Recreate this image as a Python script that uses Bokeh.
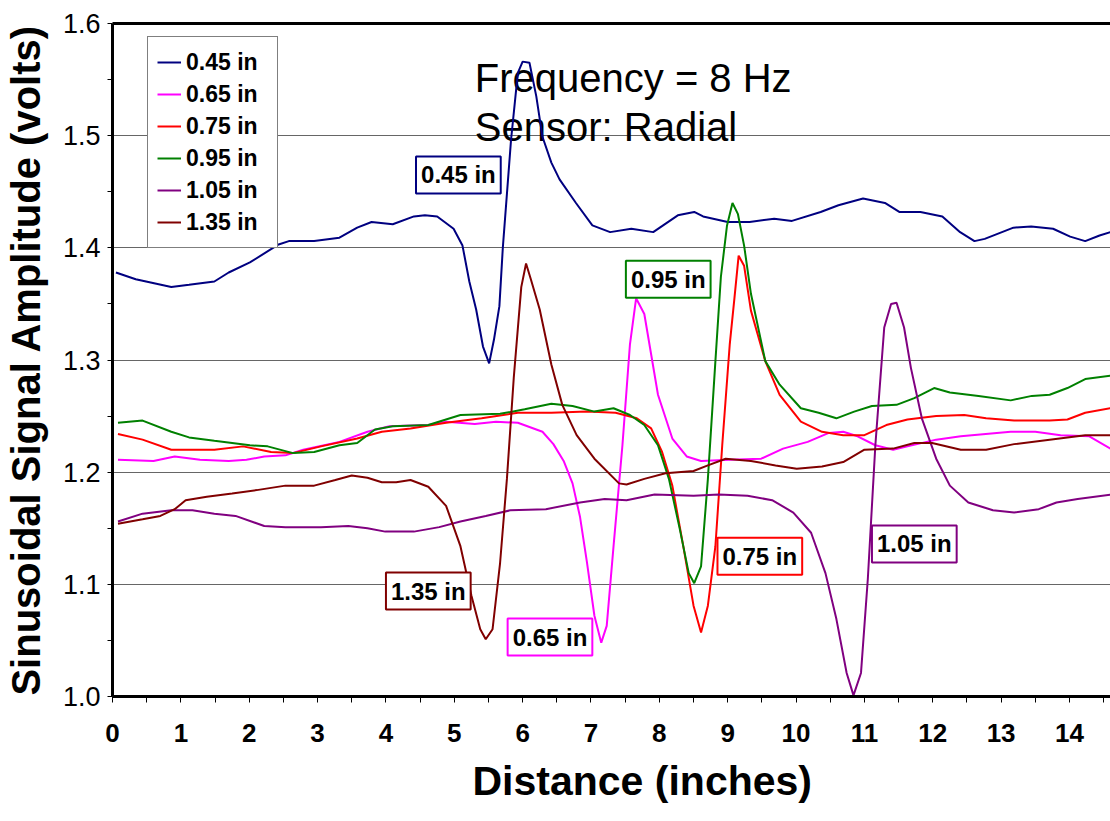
from bokeh.plotting import figure
from bokeh.models import FixedTicker, PrintfTickFormatter, Label, LinearAxis, Range1d, Title
from bokeh.embed import file_html
from bokeh.resources import INLINE

FONT = "Liberation Sans"

# ---------------- data ----------------
series_names = ["0.45 in", "0.65 in", "0.75 in", "0.95 in", "1.05 in", "1.35 in"]
series_colors = ["#000080", "#FF00FF", "#FF0000", "#008000", "#800080", "#800000"]

x_045 = [0.05, 0.34, 0.86, 1.12, 1.49, 1.70, 2.01, 2.43, 2.58, 2.95, 3.32, 3.58, 3.79, 4.10,
         4.41, 4.57, 4.75, 4.99, 5.12, 5.22, 5.32, 5.42, 5.51, 5.58, 5.66, 5.71, 5.83, 5.93,
         6.00, 6.10, 6.20, 6.29, 6.42, 6.54, 6.78, 7.02, 7.28, 7.59, 7.91, 8.27, 8.51, 8.64,
         9.00, 9.32, 9.68, 9.94, 10.36, 10.62, 10.98, 11.30, 11.51, 11.82, 12.14, 12.40,
         12.61, 12.76, 13.18, 13.44, 13.76, 14.01, 14.23, 14.44, 14.60]
y_045 = [1.378, 1.372, 1.365, 1.367, 1.370, 1.378, 1.387, 1.403, 1.406, 1.406, 1.409, 1.418,
         1.423, 1.421, 1.428, 1.429, 1.428, 1.417, 1.402, 1.370, 1.345, 1.312, 1.297, 1.318,
         1.348, 1.400, 1.496, 1.556, 1.566, 1.565, 1.535, 1.499, 1.476, 1.461, 1.440, 1.420,
         1.414, 1.417, 1.414, 1.429, 1.432, 1.428, 1.423, 1.423, 1.426, 1.424, 1.432, 1.438,
         1.444, 1.440, 1.432, 1.432, 1.428, 1.414, 1.406, 1.408, 1.418, 1.419, 1.417, 1.410,
         1.406, 1.411, 1.414]

x_065 = [0.08, 0.60, 0.91, 1.28, 1.70, 1.96, 2.22, 2.53, 2.79, 3.32, 3.73, 4.05, 4.62, 4.88,
         5.30, 5.61, 5.93, 6.29, 6.45, 6.60, 6.73, 6.84, 6.94, 7.05, 7.15, 7.23, 7.33, 7.46,
         7.57, 7.66, 7.78, 7.98, 8.19, 8.40, 8.61, 9.03, 9.49, 9.81, 10.17, 10.48, 10.69,
         10.90, 11.16, 11.42, 11.63, 12.05, 12.41, 13.14, 13.50, 13.87, 14.29, 14.60]
y_065 = [1.211, 1.210, 1.214, 1.211, 1.210, 1.211, 1.214, 1.215, 1.220, 1.227, 1.236, 1.241,
         1.242, 1.245, 1.243, 1.245, 1.244, 1.236, 1.225, 1.210, 1.190, 1.160, 1.120, 1.072,
         1.048, 1.063, 1.134, 1.224, 1.314, 1.355, 1.341, 1.269, 1.230, 1.214, 1.210, 1.211,
         1.212, 1.221, 1.227, 1.235, 1.236, 1.232, 1.224, 1.220, 1.223, 1.229, 1.232, 1.236,
         1.236, 1.233, 1.232, 1.221]

x_075 = [0.08, 0.44, 0.86, 1.49, 1.91, 2.32, 2.64, 3.05, 3.58, 3.94, 4.36, 4.88, 5.40, 5.93,
         6.42, 6.94, 7.36, 7.67, 7.88, 8.04, 8.19, 8.35, 8.50, 8.61, 8.71, 8.82, 8.92, 9.03,
         9.10, 9.16, 9.24, 9.34, 9.55, 9.76, 10.07, 10.38, 10.69, 11.00, 11.32, 11.63, 12.05,
         12.46, 12.78, 13.19, 13.71, 13.97, 14.23, 14.60]
y_075 = [1.234, 1.229, 1.220, 1.220, 1.223, 1.218, 1.217, 1.223, 1.230, 1.236, 1.239, 1.244,
         1.248, 1.253, 1.253, 1.254, 1.253, 1.248, 1.239, 1.218, 1.188, 1.134, 1.081, 1.057,
         1.081, 1.134, 1.224, 1.314, 1.356, 1.393, 1.384, 1.344, 1.299, 1.269, 1.245, 1.236,
         1.233, 1.233, 1.242, 1.247, 1.250, 1.251, 1.248, 1.246, 1.246, 1.247, 1.253, 1.257]

x_095 = [0.08, 0.44, 0.86, 1.12, 1.49, 2.01, 2.27, 2.64, 2.95, 3.32, 3.58, 3.84, 4.10, 4.62,
         5.09, 5.67, 6.03, 6.42, 6.73, 7.05, 7.33, 7.57, 7.78, 7.98, 8.14, 8.30, 8.43, 8.51,
         8.61, 8.71, 8.82, 8.90, 8.99, 9.07, 9.15, 9.24, 9.34, 9.55, 9.76, 10.07, 10.33, 10.59,
         10.85, 11.11, 11.47, 11.73, 12.02, 12.25, 12.67, 13.14, 13.45, 13.71, 13.97, 14.23,
         14.60]
y_095 = [1.244, 1.246, 1.236, 1.231, 1.228, 1.224, 1.223, 1.217, 1.218, 1.224, 1.226, 1.238,
         1.241, 1.242, 1.251, 1.252, 1.256, 1.261, 1.259, 1.254, 1.257, 1.251, 1.242, 1.224,
         1.194, 1.149, 1.110, 1.101, 1.116, 1.194, 1.299, 1.374, 1.420, 1.440, 1.430, 1.402,
         1.359, 1.299, 1.278, 1.257, 1.253, 1.248, 1.254, 1.259, 1.260, 1.266, 1.275, 1.271,
         1.268, 1.264, 1.268, 1.269, 1.275, 1.283, 1.286]

x_105 = [0.08, 0.44, 0.86, 1.17, 1.49, 1.80, 2.22, 2.53, 3.05, 3.45, 3.73, 3.99, 4.41, 4.78,
         5.09, 5.46, 5.82, 6.34, 6.84, 7.20, 7.52, 7.93, 8.50, 8.87, 9.29, 9.65, 9.96, 10.22,
         10.43, 10.59, 10.74, 10.84, 10.95, 11.05, 11.16, 11.29, 11.39, 11.47, 11.58, 11.68,
         11.84, 12.05, 12.25, 12.52, 12.88, 13.19, 13.55, 13.81, 14.12, 14.60]
y_105 = [1.156, 1.163, 1.166, 1.166, 1.163, 1.161, 1.152, 1.151, 1.151, 1.152, 1.150, 1.147,
         1.147, 1.151, 1.156, 1.161, 1.166, 1.167, 1.173, 1.176, 1.175, 1.180, 1.179, 1.180,
         1.179, 1.175, 1.164, 1.146, 1.110, 1.069, 1.021, 1.001, 1.021, 1.105, 1.224, 1.329,
         1.350, 1.351, 1.329, 1.293, 1.248, 1.212, 1.188, 1.173, 1.166, 1.164, 1.167, 1.173,
         1.176, 1.180]

x_135 = [0.08, 0.44, 0.70, 0.91, 1.07, 1.38, 1.75, 2.11, 2.53, 2.95, 3.26, 3.50, 3.73, 3.94,
         4.15, 4.36, 4.62, 4.88, 5.09, 5.25, 5.38, 5.46, 5.56, 5.67, 5.77, 5.87, 5.98, 6.05,
         6.12, 6.25, 6.42, 6.58, 6.79, 7.05, 7.41, 7.52, 7.78, 8.09, 8.50, 8.71, 8.97, 9.34,
         9.70, 10.01, 10.38, 10.69, 11.00, 11.42, 11.73, 11.99, 12.41, 12.78, 13.19, 13.71,
         14.23, 14.60]
y_135 = [1.154, 1.158, 1.161, 1.167, 1.175, 1.178, 1.181, 1.184, 1.188, 1.188, 1.193, 1.197,
         1.195, 1.191, 1.191, 1.193, 1.187, 1.170, 1.134, 1.090, 1.060, 1.051, 1.060, 1.119,
         1.194, 1.284, 1.365, 1.386, 1.372, 1.345, 1.296, 1.260, 1.233, 1.212, 1.190, 1.189,
         1.194, 1.199, 1.201, 1.206, 1.212, 1.210, 1.206, 1.203, 1.205, 1.209, 1.220, 1.221,
         1.226, 1.226, 1.220, 1.220, 1.225, 1.229, 1.233, 1.233]

series_x = [x_045, x_065, x_075, x_095, x_105, x_135]
series_y = [y_045, y_065, y_075, y_095, y_105, y_135]

x_ticks = list(range(0, 15))
x_minor = [i + 0.5 for i in range(0, 15)]
y_ticks = [1.0, 1.1, 1.2, 1.3, 1.4, 1.5, 1.6]
y_minor = [1.05, 1.15, 1.25, 1.35, 1.45, 1.55]

title_lines = ["Frequency = 8 Hz", "Sensor: Radial"]
x_label = "Distance (inches)"
y_label = "Sinusoidal Signal Amplitude (volts)"

# callout boxes (text = series name), placed in data coordinates
callout_x = [5.06, 6.40, 9.47, 8.13, 11.73, 4.62]
callout_y = [1.465, 1.053, 1.125, 1.372, 1.136, 1.094]

# ---------------- figure ----------------
p = figure(width=1110, height=821, output_backend="svg", toolbar_location=None, title=None,
           x_range=Range1d(0, 14.6), y_range=Range1d(1.0, 1.6),
           min_border_left=112, min_border_right=0, min_border_top=23, min_border_bottom=125)
p.outline_line_color = None
p.background_fill_color = "white"
p.border_fill_color = "white"

p.xgrid.visible = False
p.ygrid.grid_line_color = "#666666"
p.ygrid.grid_line_width = 1

for ax in (p.xaxis[0], p.yaxis[0]):
    ax.axis_line_width = 3
    ax.axis_line_color = "black"
    ax.major_tick_in = 0
    ax.minor_tick_in = 0
    ax.major_tick_line_color = "black"
    ax.minor_tick_line_color = "black"
    ax.major_label_text_font = FONT
    ax.major_label_text_color = "black"
    ax.axis_label_text_font = FONT
    ax.axis_label_text_font_size = "40px"
    ax.axis_label_text_font_style = "bold"
    ax.axis_label_text_color = "black"

p.xaxis.ticker = FixedTicker(ticks=x_ticks, minor_ticks=x_minor)
p.xaxis.major_tick_out = 6
p.xaxis.minor_tick_out = 6
p.xaxis.major_label_standoff = 21
p.xaxis.major_label_text_font_size = "26px"
p.xaxis.major_label_text_font_style = "bold"

p.yaxis.ticker = FixedTicker(ticks=y_ticks, minor_ticks=y_minor)
p.yaxis.formatter = PrintfTickFormatter(format="%.1f")
p.yaxis.major_tick_out = 5
p.yaxis.minor_tick_out = 5
p.yaxis.major_label_standoff = 7
p.yaxis.major_label_text_font_size = "27px"
p.yaxis.major_label_text_font_style = "normal"
p.yaxis.axis_label = y_label
p.yaxis.axis_label_standoff = 12

# x-axis title below the axis, shifted right like in the reference
p.add_layout(Title(text=x_label, align="left", offset=360, vertical_align="top",
                   text_font=FONT, text_font_size="41px", text_font_style="bold",
                   text_color="black", standoff=27), "below")

top_ax = LinearAxis(ticker=FixedTicker(ticks=[], minor_ticks=[]),
                    major_label_text_font_size="0px", major_tick_out=0, major_tick_in=0,
                    minor_tick_out=0, minor_tick_in=0, axis_line_width=3,
                    axis_line_color="black", major_label_standoff=0)
p.add_layout(top_ax, "above")

for xs, ys, name, col in zip(series_x, series_y, series_names, series_colors):
    p.line(xs, ys, line_color=col, line_width=2, legend_label=name)

leg = p.legend[0]
leg.location = (35, 448)
leg.border_line_color = "black"
leg.border_line_width = 1
leg.background_fill_color = "white"
leg.background_fill_alpha = 1
leg.padding = 9
leg.spacing = 0
leg.margin = 0
leg.glyph_width = 24
leg.glyph_height = 32
leg.label_height = 32
leg.label_width = 82
leg.label_standoff = 5
leg.label_text_font = FONT
leg.label_text_font_size = "23px"
leg.label_text_font_style = "bold"
leg.label_text_color = "black"

for t, xx, yy, col in zip(series_names, callout_x, callout_y, series_colors):
    p.add_layout(Label(x=xx, y=yy, text=t, text_align="center", text_baseline="middle",
                       text_font=FONT, text_font_size="24px", text_font_style="bold",
                       text_color="black", border_line_color=col, border_line_width=2,
                       background_fill_color="white", padding=5))

p.add_layout(Label(x=5.30, y=1.5518, text=title_lines[0], text_font=FONT,
                   text_font_size="40px", text_color="black", text_baseline="alphabetic",
                   text_align="left", level="underlay"))
p.add_layout(Label(x=5.30, y=1.508, text=title_lines[1], text_font=FONT,
                   text_font_size="40px", text_color="black", text_baseline="alphabetic",
                   text_align="left", level="underlay"))

open("out.html", "w").write(file_html(p, INLINE))
